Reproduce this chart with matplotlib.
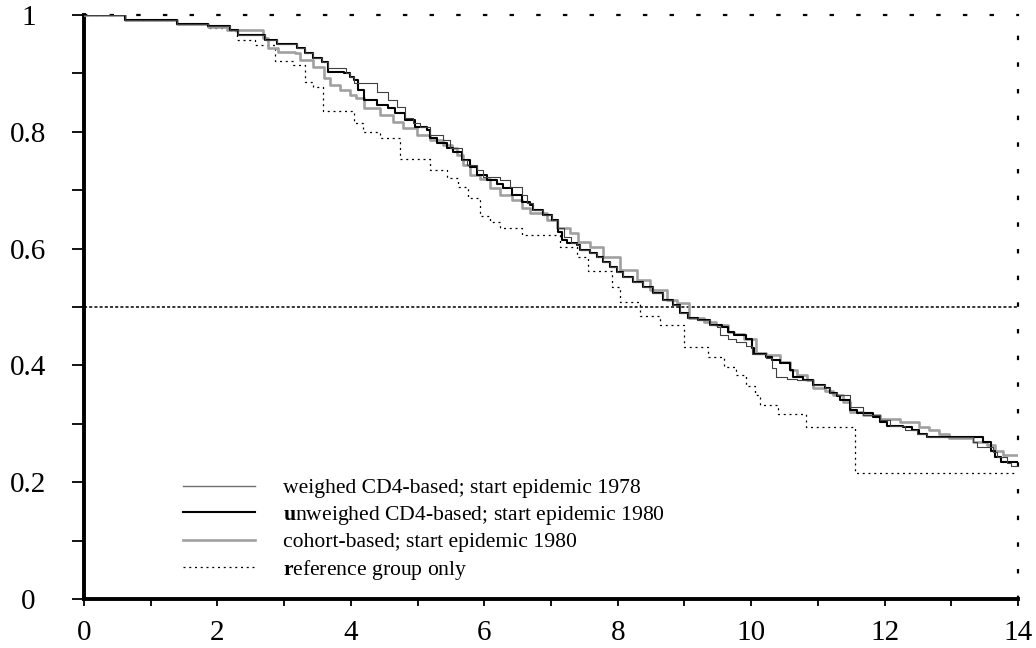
import matplotlib
matplotlib.use("Agg")
import matplotlib.pyplot as plt
from matplotlib.ticker import MultipleLocator, FixedLocator, FixedFormatter

plt.rcParams['font.family'] = ['Liberation Serif', 'DejaVu Serif']
plt.rcParams['mathtext.fontset'] = 'custom'
plt.rcParams['mathtext.rm'] = 'Liberation Serif'
plt.rcParams['mathtext.bf'] = 'Liberation Serif:bold'

# ---------------- data ----------------
# weighed CD4-based; start epidemic 1978  (thin dark grey)
weighed_t = [0, 0.62, 1.40, 1.86, 2.19, 2.31, 2.72, 2.90, 3.20, 3.32, 3.44, 3.57,
             3.66, 3.92, 3.98, 4.04, 4.39, 4.56, 4.69, 4.81, 4.93, 5.04, 5.19, 5.38,
             5.49, 5.67, 5.74, 5.89, 5.98, 6.24, 6.39, 6.57, 6.64, 6.73, 6.88, 7.01,
             7.10, 7.19, 7.30, 7.39, 7.43, 7.58, 7.69, 7.78, 7.88, 7.99, 8.08, 8.23,
             8.38, 8.53, 8.68, 8.83, 8.93, 9.05, 9.20, 9.38, 9.49, 9.53, 9.65, 9.78,
             9.93, 10.01, 10.23, 10.31, 10.38, 10.53, 10.68, 10.92, 11.10, 11.18,
             11.28, 11.48, 11.67, 11.93, 12.08, 12.30, 12.48, 12.63, 13.32, 13.39,
             13.62, 13.69, 13.84, 13.90, 14.0]
weighed_s = [1.0, 0.991, 0.985, 0.981, 0.974, 0.966, 0.957, 0.950, 0.943, 0.935, 0.926, 0.919,
             0.909, 0.901, 0.894, 0.883, 0.868, 0.854, 0.842, 0.824, 0.815, 0.808, 0.794, 0.786,
             0.772, 0.752, 0.743, 0.734, 0.722, 0.717, 0.705, 0.692, 0.678, 0.666, 0.658, 0.649,
             0.635, 0.620, 0.609, 0.606, 0.597, 0.592, 0.585, 0.577, 0.568, 0.560, 0.551, 0.543,
             0.534, 0.524, 0.512, 0.503, 0.489, 0.481, 0.477, 0.469, 0.465, 0.452, 0.446, 0.440,
             0.434, 0.420, 0.412, 0.395, 0.380, 0.376, 0.375, 0.366, 0.361, 0.352,
             0.349, 0.329, 0.315, 0.306, 0.297, 0.289, 0.283, 0.277, 0.268, 0.260,
             0.251, 0.243, 0.233, 0.227, 0.227]

# unweighed CD4-based; start epidemic 1980  (black)
unweighed_t = [0, 0.62, 1.40, 1.86, 2.19, 2.31, 2.72, 2.90, 3.20, 3.32, 3.44, 3.57,
               3.66, 3.89, 3.98, 4.04, 4.11, 4.19, 4.39, 4.56, 4.66, 4.81, 4.96, 5.14,
               5.19, 5.29, 5.44, 5.53, 5.67, 5.79, 5.89, 6.04, 6.19, 6.28, 6.42, 6.57,
               6.69, 6.73, 6.88, 7.01, 7.10, 7.16, 7.24, 7.39, 7.43, 7.58, 7.69, 7.78,
               7.88, 7.99, 8.08, 8.23, 8.38, 8.53, 8.68, 8.83, 8.93, 9.05, 9.20, 9.38,
               9.56, 9.65, 9.75, 9.93, 10.01, 10.05, 10.23, 10.32, 10.43, 10.58, 10.62,
               10.77, 10.92, 11.10, 11.18, 11.28, 11.33, 11.48, 11.58, 11.82, 11.93,
               12.03, 12.27, 12.41, 12.52, 12.63, 13.47, 13.60, 13.65, 13.75, 14.0]
unweighed_s = [1.0, 0.991, 0.985, 0.981, 0.974, 0.966, 0.957, 0.950, 0.943, 0.935, 0.926, 0.919,
               0.902, 0.901, 0.894, 0.889, 0.871, 0.854, 0.846, 0.841, 0.832, 0.820, 0.808, 0.803,
               0.789, 0.781, 0.772, 0.765, 0.752, 0.740, 0.726, 0.717, 0.710, 0.704, 0.692, 0.680,
               0.675, 0.666, 0.658, 0.649, 0.628, 0.614, 0.609, 0.606, 0.597, 0.592, 0.585, 0.577,
               0.568, 0.560, 0.551, 0.543, 0.534, 0.524, 0.512, 0.503, 0.489, 0.481, 0.477, 0.469,
               0.465, 0.457, 0.452, 0.446, 0.429, 0.420, 0.414, 0.409, 0.404, 0.392, 0.380,
               0.375, 0.366, 0.361, 0.352, 0.347, 0.341, 0.323, 0.318, 0.311, 0.303,
               0.297, 0.294, 0.289, 0.282, 0.277, 0.268, 0.254, 0.243, 0.235, 0.235]

# cohort-based; start epidemic 1980  (light grey)
cohort_t = [0, 0.62, 1.40, 1.86, 2.15, 2.69, 2.76, 2.91, 3.17, 3.24, 3.44, 3.59,
            3.69, 3.84, 3.99, 4.07, 4.19, 4.44, 4.63, 4.78, 4.99, 5.19, 5.38, 5.52,
            5.59, 5.68, 5.79, 5.94, 6.09, 6.24, 6.42, 6.57, 6.69, 6.94, 7.09, 7.28,
            7.40, 7.58, 7.78, 8.03, 8.29, 8.48, 8.74, 8.89, 9.07, 9.29, 9.47, 9.65,
            9.74, 9.89, 10.08, 10.23, 10.43, 10.58, 10.68, 10.83, 10.92, 11.10, 11.22,
            11.37, 11.48, 11.67, 11.93, 12.23, 12.52, 12.67, 12.82, 12.97, 13.32, 13.53,
            13.65, 13.77, 14.0]
cohort_s = [1.0, 0.991, 0.985, 0.979, 0.974, 0.961, 0.943, 0.937, 0.935, 0.923, 0.911, 0.892,
            0.880, 0.871, 0.863, 0.858, 0.841, 0.829, 0.817, 0.806, 0.794, 0.786, 0.777, 0.772,
            0.760, 0.743, 0.726, 0.720, 0.704, 0.692, 0.683, 0.669, 0.661, 0.649, 0.635, 0.626,
            0.611, 0.602, 0.585, 0.563, 0.546, 0.529, 0.512, 0.506, 0.481, 0.474, 0.469, 0.457,
            0.453, 0.446, 0.422, 0.417, 0.405, 0.392, 0.383, 0.375, 0.361, 0.357, 0.349,
            0.338, 0.320, 0.315, 0.309, 0.303, 0.294, 0.289, 0.282, 0.275, 0.268, 0.263,
            0.254, 0.246, 0.246]

# reference group only  (dotted)
reference_t = [0, 0.62, 1.40, 1.86, 2.20, 2.30, 2.57, 2.86, 3.14, 3.32, 3.44, 3.58,
               4.04, 4.18, 4.44, 4.73, 5.19, 5.44, 5.60, 5.75, 5.94, 6.09, 6.23, 6.57,
               7.13, 7.39, 7.56, 7.91, 8.03, 8.34, 8.63, 9.00, 9.35, 9.60, 9.78, 9.93,
               10.06, 10.13, 10.40, 10.82, 11.56, 14.0]
reference_s = [1.0, 0.991, 0.985, 0.978, 0.973, 0.957, 0.949, 0.921, 0.915, 0.885, 0.877, 0.836,
               0.815, 0.800, 0.790, 0.754, 0.735, 0.721, 0.706, 0.687, 0.656, 0.646, 0.636, 0.624,
               0.602, 0.586, 0.562, 0.535, 0.509, 0.484, 0.470, 0.431, 0.415, 0.398, 0.383, 0.364,
               0.350, 0.333, 0.316, 0.294, 0.215, 0.215]

labels = ["weighed CD4-based; start epidemic 1978",
          r"$\mathbf{u}$nweighed CD4-based; start epidemic 1980",
          "cohort-based; start epidemic 1980",
          r"$\mathbf{r}$eference group only"]

x_ticks = [0, 2, 4, 6, 8, 10, 12, 14]
y_ticks = [0, 0.2, 0.4, 0.6, 0.8, 1.0]
y_tick_labels = ["0", "0.2", "0.4", "0.6", "0.8", "1"]
median_level = 0.5

# ---------------- figure ----------------
fig = plt.figure(figsize=(10.36, 6.48), dpi=100)
ax = fig.add_axes([84 / 1036, 1 - 599 / 648, (1018 - 84) / 1036, (599 - 15) / 648])

ax.axhline(median_level, color='black', lw=1.1, ls=(0, (2.0, 1.4)), zorder=1)

l_ref, = ax.plot(reference_t, reference_s, drawstyle='steps-post', color='black',
                 lw=0.9, ls=(0, (1.6, 3.0)), zorder=2)
l_coh, = ax.plot(cohort_t, cohort_s, drawstyle='steps-post', color='#a0a0a0',
                 lw=1.9, zorder=3)
l_unw, = ax.plot(unweighed_t, unweighed_s, drawstyle='steps-post', color='black',
                 lw=1.5, zorder=4)
l_wei, = ax.plot(weighed_t, weighed_s, drawstyle='steps-post', color='#404040',
                 lw=0.8, zorder=5)

ax.set_xlim(0, 14)
ax.set_ylim(0, 1)

# spines
for s in ['left', 'bottom']:
    ax.spines[s].set_linewidth(2.8)
    ax.spines[s].set_color('black')
    ax.spines[s].set_capstyle('projecting')
for s in ['top', 'right']:
    ax.spines[s].set_linewidth(1.6)
    ax.spines[s].set_linestyle((0, (1, 11)))
    ax.spines[s].set_color('black')

ax.xaxis.set_major_locator(FixedLocator(x_ticks))
ax.xaxis.set_minor_locator(MultipleLocator(1))
ax.yaxis.set_major_locator(FixedLocator(y_ticks))
ax.yaxis.set_major_formatter(FixedFormatter(y_tick_labels))
ax.yaxis.set_minor_locator(MultipleLocator(0.1))

ax.tick_params(axis='x', which='both', direction='out', length=5, width=1.3,
               top=False, labelsize=21, pad=10)
ax.tick_params(axis='y', which='both', direction='out', length=8.5, width=1.3,
               right=False, labelsize=21, pad=31.5)
for lab in ax.get_yticklabels():
    lab.set_horizontalalignment('center')

leg = ax.legend([l_wei, l_unw, l_coh, l_ref], labels,
                loc='upper left', bbox_to_anchor=(183 / 1036, 1 - 478 / 648),
                bbox_transform=fig.transFigure, frameon=False, fontsize=15.6,
                handlelength=3.3, handletextpad=1.3, labelspacing=0.25,
                borderpad=0, borderaxespad=0)
leg.get_lines()[0].set_color('#707070')
leg.get_lines()[0].set_linewidth(1.0)

fig.savefig("out.png", dpi=100)
